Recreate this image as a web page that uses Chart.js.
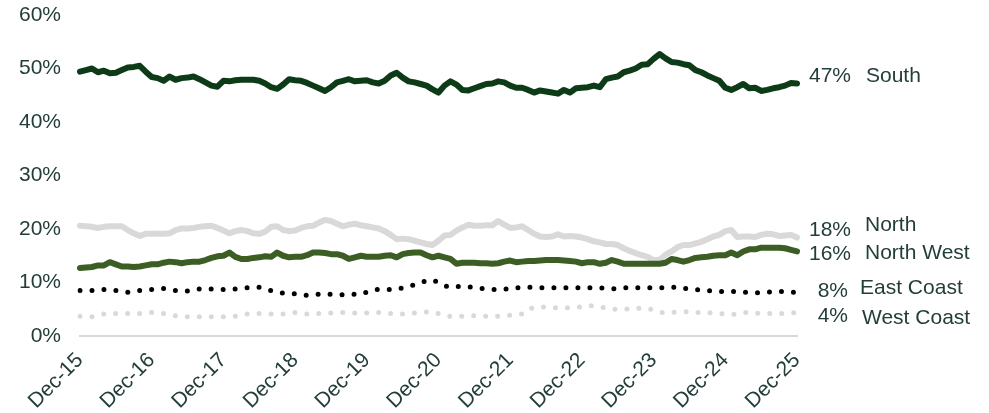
<!DOCTYPE html>
<html>
<head>
<meta charset="utf-8">
<script src="https://cdn.jsdelivr.net/npm/chart.js@4/dist/chart.umd.min.js"></script>
<style>
  html, body { margin: 0; padding: 0; background: #fff; }
  #wrap { width: 989px; height: 413px; }
</style>
</head>
<body>
<div id="wrap"><canvas id="myChart" width="989" height="413"></canvas></div>
<script>
// monthly share by region, Dec-15 .. Dec-25
const tickLabels = ['Dec-15', 'Dec-16', 'Dec-17', 'Dec-18', 'Dec-19', 'Dec-20', 'Dec-21', 'Dec-22', 'Dec-23', 'Dec-24', 'Dec-25'];
const monthNames = ['Dec', 'Jan', 'Feb', 'Mar', 'Apr', 'May', 'Jun', 'Jul', 'Aug', 'Sep', 'Oct', 'Nov'];

const south = [
  49.4, 49.7, 50.0, 49.3, 49.6, 49.1, 49.2, 49.7, 50.2, 50.3,
  50.5, 49.4, 48.4, 48.2, 47.7, 48.5, 47.9, 48.2, 48.3, 48.5,
  48.0, 47.4, 46.8, 46.6, 47.7, 47.6, 47.8, 47.9, 47.9, 47.9,
  47.7, 47.2, 46.5, 46.2, 47.0, 48.0, 47.8, 47.7, 47.3, 46.8,
  46.3, 45.8, 46.5, 47.4, 47.7, 48.0, 47.6, 47.7, 47.8, 47.4,
  47.2, 47.7, 48.7, 49.2, 48.3, 47.6, 47.4, 47.1, 46.8, 46.1,
  45.5, 46.8, 47.6, 47.0, 46.0, 45.9, 46.3, 46.7, 47.1, 47.2,
  47.6, 47.4, 46.8, 46.4, 46.4, 46.0, 45.5, 45.9, 45.7, 45.5,
  45.3, 46.0, 45.5, 46.3, 46.4, 46.5, 46.8, 46.5, 48.0, 48.3,
  48.5, 49.3, 49.6, 50.0, 50.7, 50.8, 51.8, 52.7, 51.9, 51.2,
  51.1, 50.8, 50.6, 49.7, 49.3, 48.7, 48.2, 47.7, 46.4, 46.0,
  46.5, 47.1, 46.3, 46.4, 45.8, 46.0, 46.3, 46.5, 46.8, 47.3,
  47.2
];
const north = [
  20.6, 20.5, 20.4, 20.2, 20.4, 20.5, 20.5, 20.5, 19.8, 19.2,
  18.7, 19.1, 19.1, 19.1, 19.1, 19.2, 19.8, 20.1, 20.1, 20.2,
  20.4, 20.5, 20.6, 20.2, 19.7, 19.2, 19.6, 19.8, 19.6, 19.2,
  19.1, 19.5, 20.4, 20.5, 19.8, 19.6, 19.7, 20.2, 20.5, 20.6,
  21.2, 21.7, 21.5, 21.0, 20.5, 20.8, 21.0, 20.7, 20.5, 20.3,
  20.1, 19.6, 18.9, 18.1, 18.2, 18.1, 17.8, 17.5, 17.2, 17.0,
  17.8, 18.8, 18.9, 19.7, 20.3, 20.8, 20.6, 20.6, 20.7, 20.7,
  21.5, 20.8, 20.2, 20.3, 20.5, 19.8, 19.1, 18.6, 18.5, 18.6,
  19.0, 18.6, 18.7, 18.6, 18.4, 18.1, 17.7, 17.5, 17.2, 17.2,
  17.0, 16.4, 15.9, 15.5, 15.1, 14.8, 14.2, 14.2, 15.2, 15.8,
  16.6, 17.0, 17.0, 17.3, 17.6, 18.1, 18.6, 18.9, 19.6, 19.8,
  18.5, 18.6, 18.6, 18.5, 18.9, 19.1, 19.0, 18.7, 18.8, 18.9,
  18.4
];
const northWest = [
  12.7, 12.8, 12.9, 13.2, 13.2, 13.8, 13.4, 13.0, 13.0, 12.9,
  13.0, 13.2, 13.4, 13.4, 13.7, 13.9, 13.8, 13.6, 13.8, 13.9,
  13.9, 14.2, 14.6, 14.9, 15.0, 15.6, 14.8, 14.4, 14.4, 14.6,
  14.7, 14.9, 14.8, 15.6, 15.0, 14.7, 14.8, 14.8, 15.1, 15.6,
  15.6, 15.5, 15.3, 15.3, 15.0, 14.4, 14.7, 15.0, 14.8, 14.8,
  14.8, 15.0, 15.1, 14.7, 15.3, 15.5, 15.6, 15.6, 15.1, 14.7,
  15.0, 14.7, 14.4, 13.5, 13.7, 13.7, 13.7, 13.6, 13.6, 13.5,
  13.6, 13.9, 14.1, 13.8, 13.9, 14.0, 14.0, 14.1, 14.2, 14.2,
  14.2, 14.1, 14.0, 13.9, 13.6, 13.8, 13.8, 13.5, 13.7, 14.2,
  13.9, 13.5, 13.5, 13.5, 13.5, 13.5, 13.5, 13.5, 13.7, 14.4,
  14.2, 13.9, 14.2, 14.6, 14.7, 14.8, 15.0, 15.1, 15.1, 15.6,
  15.1, 15.8, 16.2, 16.2, 16.5, 16.5, 16.5, 16.5, 16.4, 16.1,
  15.8
];
const eastCoast = [
  8.5, 8.5, 8.5, 8.6, 8.7, 8.6, 8.5, 8.3, 8.2, 8.3,
  8.5, 8.6, 8.7, 8.8, 8.9, 8.7, 8.5, 8.4, 8.4, 8.6,
  8.8, 8.8, 8.8, 8.7, 8.7, 8.7, 8.8, 8.9, 9.0, 9.1,
  9.1, 8.8, 8.5, 8.2, 8.0, 7.9, 7.9, 7.7, 7.6, 7.7,
  7.8, 7.7, 7.8, 7.8, 7.7, 7.7, 7.8, 7.8, 8.2, 8.6,
  8.7, 8.7, 8.7, 8.7, 9.0, 9.2, 9.6, 10.0, 10.3, 10.5,
  10.0, 9.4, 9.1, 9.2, 9.3, 9.2, 9.1, 8.9, 8.8, 8.7,
  8.7, 8.8, 8.8, 9.0, 9.1, 9.1, 9.1, 9.0, 9.0, 9.0,
  9.0, 9.0, 9.0, 9.0, 9.0, 9.0, 9.0, 9.0, 8.9, 8.8,
  8.9, 9.0, 9.0, 9.0, 9.0, 9.0, 9.0, 9.0, 9.0, 9.1,
  9.1, 8.9, 8.8, 8.7, 8.6, 8.5, 8.4, 8.3, 8.3, 8.3,
  8.3, 8.2, 8.1, 8.1, 8.1, 8.2, 8.3, 8.3, 8.3, 8.2,
  8.1
];
const westCoast = [
  3.7, 3.6, 3.6, 3.9, 4.1, 4.2, 4.2, 4.2, 4.2, 4.2,
  4.2, 4.3, 4.4, 4.3, 4.2, 4.0, 3.8, 3.7, 3.6, 3.6,
  3.6, 3.6, 3.6, 3.6, 3.6, 3.6, 3.7, 3.9, 4.1, 4.2,
  4.2, 4.1, 4.1, 4.1, 4.1, 4.3, 4.4, 4.2, 4.1, 4.2,
  4.2, 4.2, 4.3, 4.4, 4.4, 4.4, 4.3, 4.2, 4.3, 4.4,
  4.4, 4.4, 4.2, 4.05, 4.1, 4.1, 4.3, 4.4, 4.5, 4.5,
  4.2, 3.8, 3.7, 3.6, 3.7, 3.8, 3.8, 3.7, 3.7, 3.7,
  3.7, 3.8, 3.9, 4.0, 4.1, 5.0, 5.3, 5.5, 5.4, 5.3,
  5.3, 5.3, 5.3, 5.3, 5.5, 5.7, 5.6, 5.5, 5.2, 5.0,
  5.0, 5.0, 5.1, 5.2, 5.2, 5.2, 4.8, 4.4, 4.4, 4.4,
  4.5, 4.6, 4.5, 4.4, 4.4, 4.4, 4.3, 4.2, 4.1, 4.0,
  4.2, 4.4, 4.4, 4.3, 4.2, 4.2, 4.2, 4.2, 4.2, 4.3,
  4.4
];

// month categories, Dec-15 through Dec-25
const months = south.map((_, i) => {
  const yr = 15 + Math.ceil(i / 12);
  return monthNames[i % 12] + '-' + yr;
});

const textColor = '#233e3a';
const font = { family: '"Liberation Sans", Arial, sans-serif', size: 21 };

// series name + value label to the right of each line's last point
const endLabels = {
  id: 'endLabels',
  afterDatasetsDraw(chart) {
    const ctx = chart.ctx;
    ctx.save();
    ctx.font = font.size + 'px ' + font.family;
    ctx.fillStyle = textColor;
    ctx.textBaseline = 'middle';
    chart.data.datasets.forEach((ds, di) => {
      const meta = chart.getDatasetMeta(di);
      const pt = meta.data[meta.data.length - 1];
      const v = ds.data[ds.data.length - 1];
      const o = ds.labelPos;
      ctx.textAlign = 'right';
      ctx.fillText(Math.round(v) + '%', o.vx, pt.y + o.vy);
      ctx.textAlign = 'left';
      ctx.fillText(ds.label, o.nx, pt.y + o.ny);
    });
    ctx.restore();
  }
};

const solid = { borderWidth: 6, pointRadius: 0, borderJoinStyle: 'round', borderCapStyle: 'round', tension: 0, fill: false };
const dotted = { borderWidth: 5, pointRadius: 0, borderDash: [0, 12], borderCapStyle: 'round', tension: 0, fill: false };

const ctx = document.getElementById('myChart');
const myChart = new Chart(ctx, {
  type: 'line',
  plugins: [endLabels],
  data: {
    labels: months,
    datasets: [
      { ...solid, label: 'South', data: south, borderColor: '#0e3b17', labelPos: { vx: 851, vy: -7.5, nx: 866, ny: -7.5 } },
      { ...solid, label: 'North West', data: northWest, borderColor: '#3c5e25', labelPos: { vx: 851, vy: 2.5, nx: 865, ny: 1.5 } },
      { ...solid, label: 'North', data: north, borderColor: '#d9d9d9', labelPos: { vx: 851, vy: -7.6, nx: 865, ny: -12 } },
      { ...dotted, label: 'East Coast', data: eastCoast, borderColor: '#000000', labelPos: { vx: 848, vy: -1.7, nx: 860, ny: -4.4 } },
      { ...dotted, label: 'West Coast', data: westCoast, borderColor: '#d9d9d9', labelPos: { vx: 848, vy: 4, nx: 862, ny: 5.8 } }
    ]
  },
  options: {
    responsive: false,
    animation: false,
    layout: { autoPadding: false, padding: { top: 15, right: 192, left: 0, bottom: 0 } },
    plugins: {
      legend: { display: false },
      tooltip: { enabled: false }
    },
    scales: {
      x: {
        grid: { display: false },
        border: { color: '#d9d9d9', width: 2 },
        ticks: {
          autoSkip: false,
          maxRotation: 45,
          minRotation: 45,
          color: textColor,
          font: font,
          padding: 4,
          callback: (v, i) => (i % 12 === 0 ? tickLabels[i / 12] : '')
        },
        afterFit: (scale) => { scale.height = 77; }
      },
      y: {
        min: 0,
        max: 60,
        grid: { display: false },
        border: { display: false },
        ticks: {
          stepSize: 10,
          color: textColor,
          font: font,
          padding: 11,
          callback: (v) => v + '%'
        },
        afterFit: (scale) => {
          scale.width = 80;
          scale.paddingTop = 0;
          scale.paddingBottom = 0;
        }
      }
    }
  }
});
</script>
</body>
</html>
